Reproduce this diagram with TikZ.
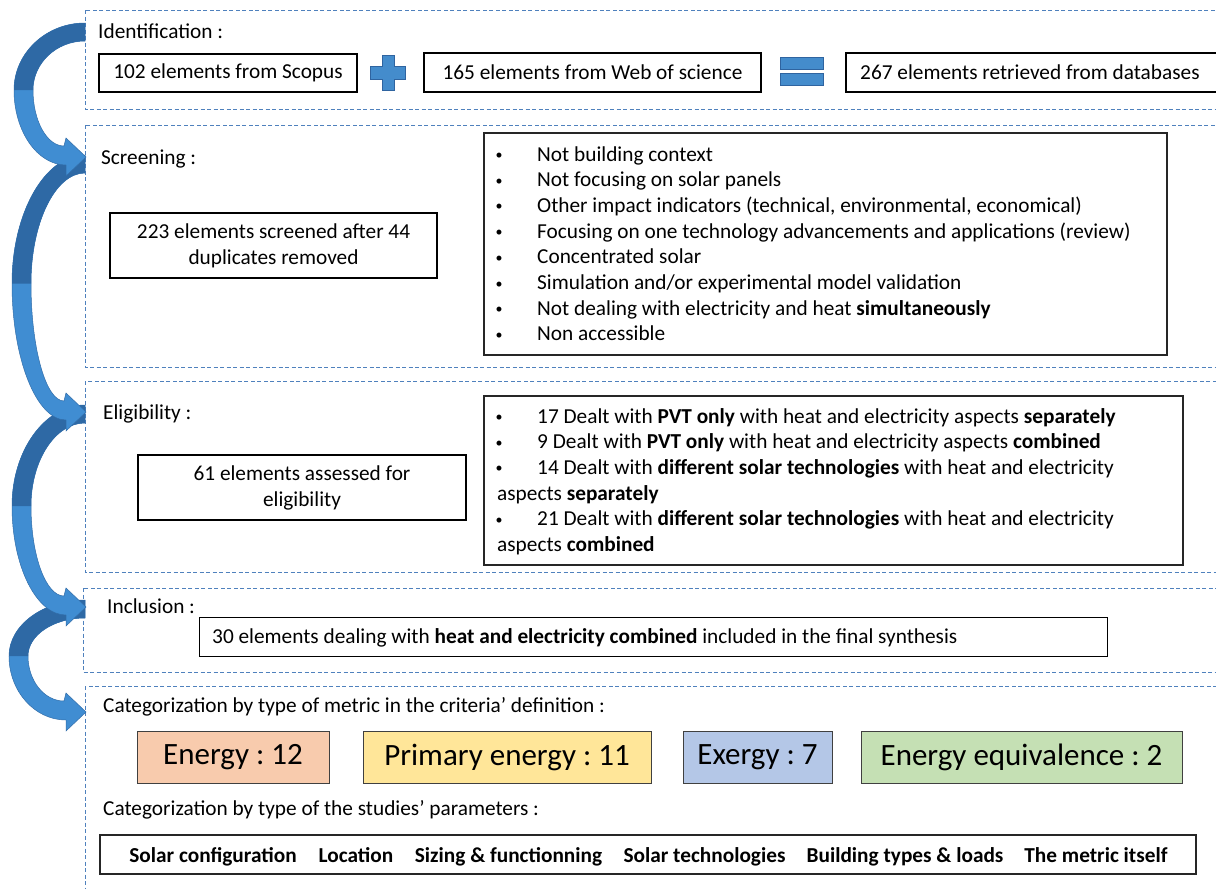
\documentclass[tikz,border=0pt]{standalone}
\usepackage{fontspec}
\setmainfont{Carlito}
\frenchspacing
\definecolor{dashblue}{RGB}{79,129,189}
\definecolor{arrdark}{RGB}{46,105,165}
\definecolor{arrlight}{RGB}{64,141,210}
\definecolor{arredge}{RGB}{50,110,170}
\definecolor{symfill}{RGB}{68,140,204}
\definecolor{symedge}{RGB}{47,100,160}
\definecolor{cpeach}{RGB}{248,203,173}
\definecolor{cyellow}{RGB}{255,230,153}
\definecolor{cblue}{RGB}{180,199,231}
\definecolor{cgreen}{RGB}{197,224,180}
\newcommand\nf{\fontsize{21.3}{26}\selectfont\frenchspacing}
\newcommand\bigf{\fontsize{31}{36}\selectfont\frenchspacing}
\newcommand\smallbul{\raisebox{1.5pt}{\fontsize{14}{14}\selectfont\textbullet}}
\tikzset{
  dbox/.style={draw=dashblue, dash pattern=on 4pt off 2.5pt, line width=1pt},
  bbox/.style={draw=black, line width=1.8pt, inner sep=0pt, align=center, font=\nf},
  lframe/.style={draw=black!85, line width=1.4pt, inner sep=0pt},
  lbl/.style={anchor=base west, inner sep=0pt, font=\nf},
  bul/.style={anchor=base, inner sep=0pt, font=\nf},
  cbox/.style={draw=black!75, line width=1pt, inner sep=0pt, font=\bigf, minimum height=52},
  pitem/.style={anchor=base, inner sep=0pt, font=\nf\bfseries},
  symb/.style={fill=symfill, draw=symedge, line width=0.8pt}
}
\newcommand\cvarr[3]{%
  \pgfmathsetmacro\arA{#1}\pgfmathsetmacro\arB{#2}\pgfmathsetmacro\arL{#3}%
  \pgfmathsetmacro\arM{(\arA+\arB)/2}%
  \fill[arrlight, draw=arredge, line width=0.5pt]
    (85,\arA) .. controls ({85-0.55*(85-\arL)},\arA) and (\arL,{\arM-0.55*(\arM-\arA)}) .. (\arL,\arM)
    .. controls (\arL,{\arM+0.55*(\arB+8-\arM)}) and ({66-0.55*(66-\arL)},{\arB+8}) .. (66,{\arB+8})
    -- (66,{\arB+19}) -- (86,\arB) -- (66,{\arB-19}) -- (64,{\arB-11})
    .. controls ({64-0.55*(64-\arL-19)},{\arB-11}) and ({\arL+19},{\arM+0.55*(\arB-11-\arM)}) .. ({\arL+19},\arM)
    .. controls ({\arL+19},{\arM-0.55*(\arM-\arA-18)}) and ({85-0.55*(85-\arL-19)},{\arA+18}) .. (85,{\arA+18})
    -- cycle;
  \fill[arrdark]
    (85,\arA) .. controls ({85-0.55*(85-\arL)},\arA) and (\arL,{\arM-0.55*(\arM-\arA)}) .. (\arL,\arM)
    -- ({\arL+19},\arM)
    .. controls ({\arL+19},{\arM-0.55*(\arM-\arA-18)}) and ({85-0.55*(85-\arL-19)},{\arA+18}) .. (85,{\arA+18})
    -- cycle;
}
\begin{document}
\begin{tikzpicture}[x=1pt,y=-1pt]
\clip (0,0) rectangle (1216,889);
\fill[white] (0,0) rectangle (1216,889);

% dashed stage boxes
\draw[dbox] (85,10) rectangle (1230,109);
\draw[dbox] (85,125) rectangle (1230,367);
\draw[dbox] (85,381) rectangle (1230,572);
\draw[dbox] (83,588) rectangle (1230,672);
\draw[dbox] (85,686) rectangle (1230,900);

% curved arrows (later ones on top)
\cvarr{600}{712}{9}
\cvarr{405}{607}{12}
\cvarr{155}{412}{12}
\cvarr{23}{157}{14}

% Identification
\node[lbl] (tid) at (98,38) {Identification :};
\node[bbox, minimum width=258, minimum height=38] (scopus) at (228,73) {102 elements from Scopus};
\node[bbox, minimum width=337, minimum height=39] (wos) at (592.5,72.5) {165 elements from Web of science};
\node[bbox, minimum width=380, minimum height=39] (total) at (1036,72.5) {};
\node[lbl] (ttotal) at (860,79.5) {267 elements retrieved from databases};
\fill[symb] (382,55) -- (394,55) -- (394,66) -- (405,66) -- (405,79) -- (394,79) -- (394,90) -- (382,90) -- (382,79) -- (370,79) -- (370,66) -- (382,66) -- cycle;
\draw[symb] (780,57) rectangle (823,69);
\draw[symb] (780,73) rectangle (823,85);

% Screening
\node[lbl] (tscr) at (101,164) {Screening :};
\node[bbox, minimum width=327, minimum height=65] (screened) at (273.5,245.5) {223 elements screened after 44\\duplicates removed};
\node[lframe, minimum width=683, minimum height=222] (scrlist) at (825.5,244) {};
\foreach \t [count=\i from 0] in {Not building context, Not focusing on solar panels, {Other impact indicators (technical, environmental, economical)}, Focusing on one technology advancements and applications (review), Concentrated solar, Simulation and/or experimental model validation, Not dealing with electricity and heat \textbf{simultaneously}, Non accessible}{
  \node[bul] (sb\i) at (499,{161+25.7*\i}) {\smallbul};
  \node[lbl] (st\i) at (537,{161+25.7*\i}) {\t};
}

% Eligibility
\node[lbl] (tel) at (103,419) {Eligibility :};
\node[bbox, minimum width=328, minimum height=65] (eligible) at (302,487.5) {61 elements assessed for\\eligibility};
\node[lframe, minimum width=699, minimum height=169] (ellist) at (833.5,480.5) {};
\node[bul] (eb0) at (499,423) {\smallbul};
\node[lbl] (et0) at (537,423) {17 Dealt with \textbf{PVT only} with heat and electricity aspects \textbf{separately}};
\node[bul] (eb1) at (499,448.7) {\smallbul};
\node[lbl] (et1) at (537,448.7) {9 Dealt with \textbf{PVT only} with heat and electricity aspects \textbf{combined}};
\node[bul] (eb2) at (499,474.4) {\smallbul};
\node[lbl] (et2) at (537,474.4) {14 Dealt with \textbf{different solar technologies} with heat and electricity};
\node[lbl] (et2b) at (497,500.1) {aspects \textbf{separately}};
\node[bul] (eb3) at (499,525.8) {\smallbul};
\node[lbl] (et3) at (537,525.8) {21 Dealt with \textbf{different solar technologies} with heat and electricity};
\node[lbl] (et3b) at (497,551.5) {aspects \textbf{combined}};

% Inclusion
\node[lbl] (tin) at (107,613) {Inclusion :};
\node[draw=black, line width=1pt, inner sep=0pt, minimum width=908, minimum height=39] (incl) at (653,636.5) {};
\node[lbl] (tincl) at (212,643.5) {30 elements dealing with \textbf{heat and electricity combined} included in the final synthesis};

% Categorization
\node[lbl] (tcat1) at (103,712) {Categorization by type of metric in the criteria’ definition :};
\node[cbox, fill=cpeach, minimum width=192] (energy) at (233,757) {Energy : 12};
\node[cbox, fill=cyellow, minimum width=288] (primary) at (507,757) {Primary energy : 11};
\node[cbox, fill=cblue, minimum width=149] (exergy) at (757.5,757) {Exergy : 7};
\node[cbox, fill=cgreen, minimum width=321] (equiv) at (1021.5,757) {Energy equivalence : 2};
\node[lbl] (tcat2) at (103,815) {Categorization by type of the studies’ parameters :};
\node[lframe, minimum width=1096, minimum height=39] (params) at (648,854.5) {};
\node[pitem] (p1) at (213,862) {Solar configuration};
\node[pitem] (p2) at (356,862) {Location};
\node[pitem] (p3) at (508.5,862) {Sizing \& functionning};
\node[pitem] (p4) at (704.5,862) {Solar technologies};
\node[pitem] (p5) at (905,862) {Building types \& loads};
\node[pitem] (p6) at (1096,862) {The metric itself};
\end{tikzpicture}
\end{document}
